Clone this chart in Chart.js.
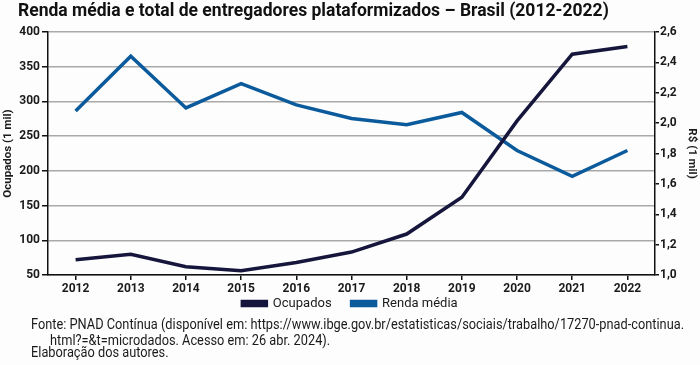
<!DOCTYPE html>
<html>
<head>
<meta charset="utf-8">
<script src="https://cdn.jsdelivr.net/npm/chart.js@4.4.1/dist/chart.umd.min.js"></script>
<style>
  body { margin: 0; background: #fdfdfd; }
  #wrap { position: absolute; left: 0; top: 0; width: 700px; height: 365px; }
  .txt {
    position: absolute; white-space: nowrap; transform-origin: 0 0;
    font-family: Roboto, 'Liberation Sans', sans-serif; color: #1a1a1a;
  }
  #titulo { left: 18px; top: -1px; font-size: 18.5px; font-weight: bold; color: #111; }
  .fonte { font-size: 14px; }
</style>
</head>
<body>
<div id="wrap"><canvas id="grafico"></canvas></div>
<div id="titulo" class="txt">Renda média e total de entregadores plataformizados – Brasil (2012-2022)</div>
<div id="f1" class="txt fonte" style="left:31px; top:316px">Fonte: PNAD Contínua (disponível em: https://www.ibge.gov.br/estatisticas/sociais/trabalho/17270-pnad-continua.</div>
<div id="f2" class="txt fonte" style="left:50px; top:332px">html?=&amp;t=microdados. Acesso em: 26 abr. 2024).</div>
<div id="f3" class="txt fonte" style="left:31px; top:344px">Elaboração dos autores.</div>
<script>
const anos = ['2012', '2013', '2014', '2015', '2016', '2017', '2018', '2019', '2020', '2021', '2022'];
const ocupados = [72, 80, 62, 56, 68, 83, 109, 162, 272, 368, 379];
const rendaMedia = [2.08, 2.44, 2.10, 2.26, 2.12, 2.03, 1.99, 2.07, 1.82, 1.65, 1.82];
const ticksOcupados = [50, 100, 150, 200, 250, 300, 350, 400];
const ticksRenda = [1.0, 1.2, 1.4, 1.6, 1.8, 2.0, 2.2, 2.4, 2.6];

const corOcup = '#16163c';
const corRenda = '#0b5a9c';

// texto condensado: ajusta a largura dos textos html
function ajusta(el, largura) {
  const s = largura / el.scrollWidth;
  el.style.transform = 'scaleX(' + s + ')';
  return s;
}
ajusta(document.getElementById('titulo'), 591);
const esc = ajusta(document.getElementById('f1'), 653);
document.getElementById('f2').style.transform = 'scaleX(' + esc + ')';
document.getElementById('f3').style.transform = 'scaleX(' + esc + ')';

Chart.defaults.font.family = "Roboto, 'Liberation Sans', sans-serif";
Chart.defaults.color = '#1a1a1a';

// posiciona a legenda logo abaixo dos anos
const moveLegenda = {
  id: 'moveLegenda',
  afterLayout(chart) {
    const lg = chart.legend;
    const h = lg.bottom - lg.top;
    lg.top = 277;
    lg.bottom = lg.top + h;
  }
};

new Chart(document.getElementById('grafico').getContext('2d'), {
  type: 'line',
  data: {
    labels: anos,
    datasets: [{
      label: 'Ocupados',
      data: ocupados,
      yAxisID: 'y',
      borderColor: corOcup,
      backgroundColor: corOcup,
      borderWidth: 3.5,
      pointRadius: 0,
      tension: 0
    }, {
      label: 'Renda média',
      data: rendaMedia,
      yAxisID: 'y1',
      borderColor: corRenda,
      backgroundColor: corRenda,
      borderWidth: 3.5,
      pointRadius: 0,
      tension: 0
    }]
  },
  options: {
    responsive: true,
    maintainAspectRatio: false,
    animation: false,
    layout: { padding: { left: 0, right: 0, top: 32, bottom: 0 } },
    plugins: {
      legend: {
        position: 'bottom',
        labels: {
          boxWidth: 24,
          boxHeight: 4,
          padding: 20,
          color: '#1a1a1a',
          font: { size: 13 }
        }
      },
      tooltip: { enabled: false }
    },
    scales: {
      x: {
        type: 'category',
        offset: true,
        border: { color: '#111', width: 1.5 },
        grid: { drawOnChartArea: false, color: '#111', tickLength: 5, lineWidth: 1.5 },
        ticks: { font: { size: 12, weight: 'bold' }, padding: 2, maxRotation: 0 },
        afterFit: function(scale) { scale.height = 47; }
      },
      y: {
        type: 'linear',
        position: 'left',
        min: 50,
        max: 400,
        afterBuildTicks: function(scale) { scale.ticks = ticksOcupados.map(v => ({ value: v })); },
        border: { color: '#111', width: 1.5 },
        grid: { color: '#a9a9a9', lineWidth: 1.5, tickLength: 6, tickColor: '#111' },
        ticks: { font: { size: 12, weight: 'bold' }, padding: 2 },
        title: { display: true, text: 'Ocupados (1 mil)', font: { size: 11.5, weight: 'bold' }, padding: 1 },
        afterFit: function(scale) { scale.width = 48; }
      },
      y1: {
        type: 'linear',
        position: 'right',
        min: 1.0,
        max: 2.6,
        afterBuildTicks: function(scale) { scale.ticks = ticksRenda.map(v => ({ value: v })); },
        border: { color: '#111', width: 1.5 },
        grid: { drawOnChartArea: false, color: '#111', tickLength: 4, lineWidth: 1.5 },
        ticks: {
          font: { size: 12, weight: 'bold' },
          padding: 1,
          callback: function(value) { return value.toFixed(1).replace('.', ','); }
        },
        title: { display: true, text: 'R$ (1 mil)', font: { size: 11.5, weight: 'bold' }, padding: 1 },
        afterFit: function(scale) { scale.width = 45; }
      }
    }
  },
  plugins: [moveLegenda]
});
</script>
</body>
</html>
